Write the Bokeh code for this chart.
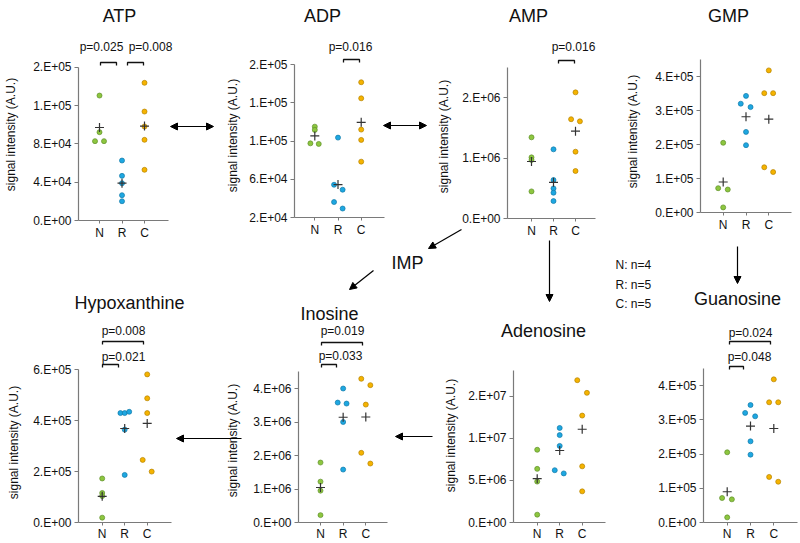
import numpy as np
from bokeh.plotting import figure
from bokeh.models import FixedTicker, Range1d, Label, Arrow, NormalHead, LinearAxis, Grid
from bokeh.embed import file_html
from bokeh.resources import INLINE

# ---------------- data ----------------
groups = ["N", "R", "C"]
group_n = ["N: n=4", "R: n=5", "C: n=5"]

atp_N = [130400, 92200, 82800, 82800]
atp_R = [62600, 46600, 38900, 26400, 20100]
atp_C = [143700, 113700, 98100, 84200, 52900]
atp_ticks = [0, 40000, 80000, 120000, 160000]
atp_tick_labels = ["0.E+00", "4.E+04", "8.E+04", "1.E+05", "2.E+05"]

adp_N = [115200, 111800, 97700, 97100]
adp_R = [103700, 54300, 49100, 36200, 29400]
adp_C = [161700, 144900, 112100, 101300, 78500]
adp_ticks = [20000, 60000, 100000, 140000, 180000]
adp_tick_labels = ["2.E+04", "6.E+04", "1.E+05", "1.E+05", "2.E+05"]

amp_N = [1345000, 1013000, 970000, 449000]
amp_R = [1146000, 638000, 498000, 427000, 289000]
amp_C = [2090000, 1645000, 1610000, 1107000, 787000]
amp_ticks = [0, 1000000, 2000000]
amp_tick_labels = ["0.E+00", "1.E+06", "2.E+06"]

gmp_N = [205000, 15000, 71500, 67600]
gmp_R = [343000, 320000, 310000, 237000, 198000]
gmp_C = [418000, 351000, 351000, 133000, 119000]
gmp_ticks = [0, 100000, 200000, 300000, 400000]
gmp_tick_labels = ["0.E+00", "1.E+05", "2.E+05", "3.E+05", "4.E+05"]

hyp_N = [173000, 116000, 104000, 19000]
hyp_R = [430000, 430000, 435000, 365000, 187000]
hyp_C = [582000, 488000, 430000, 246000, 200000]
hyp_ticks = [0, 200000, 400000, 600000]
hyp_tick_labels = ["0.E+00", "2.E+05", "4.E+05", "6.E+05"]

ino_N = [1790000, 1220000, 950000, 220000]
ino_R = [4000000, 3580000, 3550000, 3000000, 1580000]
ino_C = [4290000, 4100000, 3520000, 2080000, 1760000]
ino_ticks = [0, 1000000, 2000000, 3000000, 4000000]
ino_tick_labels = ["0.E+00", "1.E+06", "2.E+06", "3.E+06", "4.E+06"]

ade_N = [8640000, 6370000, 4860000, 930000]
ade_R = [11230000, 10380000, 9100000, 6210000, 5830000]
ade_C = [16900000, 15400000, 12700000, 6670000, 3700000]
ade_ticks = [0, 5000000, 10000000, 15000000]
ade_tick_labels = ["0.E+00", "5.E+06", "1.E+07", "2.E+07"]

guo_N = [205000, 15000, 71500, 67600]
guo_R = [343000, 320000, 310000, 237000, 198000]
guo_C = [418000, 351000, 351000, 133000, 119000]
guo_ticks = [0, 100000, 200000, 300000, 400000]
guo_tick_labels = ["0.E+00", "1.E+05", "2.E+05", "3.E+05", "4.E+05"]

# horizontal jitter of the dots (fraction of a category step)
atp_jit = ([0, 0, -0.2, 0.2], [0, 0, 0, 0, 0], [0, 0, 0, 0, 0])
adp_jit = ([0, 0, -0.19, 0.17], [0, -0.17, 0.2, -0.17, 0.2], [0, 0, 0, 0, 0])
amp_jit = ([0, 0, 0, 0], [0, 0, 0, 0, 0], [0, -0.2, 0.2, 0, 0])
gmp_jit = ([0, 0, -0.22, 0.2], [0, -0.23, 0.2, 0, 0], [0, -0.2, 0.19, -0.2, 0.19])
hyp_jit = ([0, 0, 0, 0], [-0.19, 0, 0.2, 0, 0], [0, 0, 0, -0.2, 0.2])
ino_jit = ([0, 0, 0, 0], [0, -0.24, 0.15, 0, 0], [-0.2, 0.2, 0, -0.2, 0.2])
ade_jit = ([0, 0, 0, 0], [0, 0, 0, -0.22, 0.18], [-0.22, 0.21, 0, 0, 0])
guo_jit = gmp_jit

# ---------------- style ----------------
W, H = 800, 543
FONT = "Liberation Sans"
FILL = ["#8dc63f", "#1ea7e1", "#f5b300"]
EDGE = ["#5f8f2a", "#117aa8", "#b48300"]
AXIS_COLOR = "#7a7a7a"
TEXT_COLOR = "#111111"
YLAB = "signal intensity (A.U.)"

# panel placement in page pixels
panels = [
    dict(key="atp", title="ATP", FL=78, FB=220, xN=99, xC=144, xend=168,
         vmin=0, vref=160000, yref=66.7, vtop=160000, ticks=atp_ticks, labels=atp_tick_labels,
         data=(atp_N, atp_R, atp_C), jit=atp_jit, tpos=(119, 15), ylab=(10, 134), xsoff=2,
         pv=[("p=0.025", 101, 46, 100, 116, 62), ("p=0.008", 150, 46, 127, 143, 62)]),
    dict(key="adp", title="ADP", FL=294, FB=217, xN=314.3, xC=360.7, xend=384,
         vmin=20000, vref=180000, yref=64.3, vtop=180000, ticks=adp_ticks, labels=adp_tick_labels,
         data=(adp_N, adp_R, adp_C), jit=adp_jit, tpos=(322, 15), ylab=(232, 135), xsoff=2,
         pv=[("p=0.016", 350, 46, 343, 359, 59)]),
    dict(key="amp", title="AMP", FL=507, FB=218, xN=531, xC=575, xend=595,
         vmin=0, vref=2000000, yref=97.3, vtop=2500000, ticks=amp_ticks, labels=amp_tick_labels,
         data=(amp_N, amp_R, amp_C), jit=amp_jit, tpos=(528, 15), ylab=(443, 136), xsoff=2,
         pv=[("p=0.016", 573, 46, 558, 574, 60)]),
    dict(key="gmp", title="GMP", FL=700, FB=212, xN=722.7, xC=768.3, xend=791,
         vmin=0, vref=400000, yref=76, vtop=450000, ticks=gmp_ticks, labels=gmp_tick_labels,
         data=(gmp_N, gmp_R, gmp_C), jit=gmp_jit, tpos=(728, 15), ylab=(632, 131), xsoff=2,
         pv=[]),
    dict(key="hyp", title="Hypoxanthine", FL=78, FB=522, xN=101.7, xC=146.7, xend=170.7,
         vmin=0, vref=600000, yref=369.3, vtop=600000, ticks=hyp_ticks, labels=hyp_tick_labels,
         data=(hyp_N, hyp_R, hyp_C), jit=hyp_jit, tpos=(129, 302), ylab=(13, 442), xsoff=1,
         pv=[("p=0.008", 123, 330, 102, 143, 341), ("p=0.021", 123, 356, 102, 118, 364)]),
    dict(key="ino", title="Inosine", FL=298, FB=522, xN=320, xC=365.3, xend=386.7,
         vmin=0, vref=4000000, yref=388, vtop=4500000, ticks=ino_ticks, labels=ino_tick_labels,
         data=(ino_N, ino_R, ino_C), jit=ino_jit, tpos=(329, 313), ylab=(232, 440), xsoff=1,
         pv=[("p=0.019", 342, 330, 321, 362, 342), ("p=0.033", 340, 355, 321, 336, 364)]),
    dict(key="ade", title="Adenosine", FL=513, FB=522, xN=536.7, xC=581.7, xend=605,
         vmin=0, vref=15000000, yref=395.7, vtop=18000000, ticks=ade_ticks, labels=ade_tick_labels,
         data=(ade_N, ade_R, ade_C), jit=ade_jit, tpos=(543, 330), ylab=(450, 435), xsoff=1,
         pv=[]),
    dict(key="guo", title="Guanosine", FL=703, FB=522, xN=726.7, xC=773.3, xend=797,
         vmin=0, vref=400000, yref=385, vtop=450000, ticks=guo_ticks, labels=guo_tick_labels,
         data=(guo_N, guo_R, guo_C), jit=guo_jit, tpos=(737, 298), ylab=None, xsoff=1,
         pv=[("p=0.024", 750, 332, 729, 770, 341), ("p=0.048", 749, 356, 729, 743, 366)]),
]

# pathway arrows (page px): x0, y0, x1, y1, double-headed
arrows = [
    (170, 126, 213, 126, True),
    (383, 125, 426, 125, True),
    (461, 229, 428, 248, False),
    (373, 270, 349, 289, False),
    (549, 240, 549, 301, False),
    (737, 246, 737, 283, False),
    (241, 438, 176, 438, False),
    (432, 436, 395, 436, False),
]
free_texts = [("IMP", 407, 262, "18px", "center")] + [
    (t, 615, y, "12px", "left") for t, y in zip(group_n, [264, 284, 303])
]

# ---------------- figure: frame = whole page, page-pixel default ranges ----------------
p = figure(width=W, height=H, x_range=Range1d(0, W), y_range=Range1d(H, 0),
           x_axis_location=None, y_axis_location=None, output_backend="svg",
           toolbar_location=None, title=None, min_border=0)
p.min_border_left = 0
p.min_border_right = 0
p.min_border_top = 0
p.min_border_bottom = 0
p.outline_line_color = None
p.background_fill_color = "white"
p.border_fill_color = "white"
p.renderers = [r for r in p.renderers if not isinstance(r, Grid)]
p.center = [r for r in p.center if not isinstance(r, Grid)]

xr, yr = {}, {}
maps = {}
for c in panels:
    sx = (c["xC"] - c["xN"]) / 2.0
    sy = (c["FB"] - c["yref"]) / (c["vref"] - c["vmin"])

    def X(px, c=c, sx=sx):
        return 1 + (px - c["xN"]) / sx

    def Y(py, c=c, sy=sy):
        return c["vmin"] + (c["FB"] - py) / sy

    xr[c["key"] + "_x"] = Range1d(X(0), X(W))
    yr[c["key"] + "_y"] = Range1d(Y(H), Y(0))
    maps[c["key"]] = (X, Y)
p.extra_x_ranges = xr
p.extra_y_ranges = yr


def text_label(x, y, txt, size, align="center", angle=0.0):
    p.add_layout(Label(x=x, y=y, text=txt, text_align=align, text_baseline="middle",
                       angle=angle, text_font=FONT, text_font_size=size,
                       text_color=TEXT_COLOR))


for c in panels:
    X, Y = maps[c["key"]]
    nx, ny = c["key"] + "_x", c["key"] + "_y"

    xa = LinearAxis(x_range_name=nx, y_range_name=ny, fixed_location=c["vmin"],
                    bounds=(X(c["FL"]), X(c["xend"])), ticker=FixedTicker(ticks=[1, 2, 3]),
                    major_label_overrides={i + 1: g for i, g in enumerate(groups)})
    ya = LinearAxis(x_range_name=nx, y_range_name=ny, fixed_location=X(c["FL"]),
                    bounds=(c["vmin"], c["vtop"]), ticker=FixedTicker(ticks=c["ticks"]),
                    major_label_overrides={t: l for t, l in zip(c["ticks"], c["labels"])})
    for ax, tout, soff in ((xa, 3, c["xsoff"]), (ya, 4, 3)):
        ax.axis_line_color = AXIS_COLOR
        ax.axis_line_width = 1.2
        ax.major_tick_line_color = AXIS_COLOR
        ax.major_tick_in = 0
        ax.major_tick_out = tout
        ax.minor_tick_line_color = None
        ax.major_label_standoff = soff
        ax.major_label_text_font = FONT
        ax.major_label_text_font_size = "12px"
        ax.major_label_text_color = TEXT_COLOR
    p.add_layout(xa, "below")
    p.add_layout(ya, "left")

    for gi, (vals, jit) in enumerate(zip(c["data"], c["jit"])):
        xs = [gi + 1 + j for j in jit]
        p.scatter(xs, vals, size=5, fill_color=FILL[gi], line_color=EDGE[gi],
                  line_width=0.7, x_range_name=nx, y_range_name=ny)
        p.scatter([gi + 1], [float(np.mean(vals))], marker="cross", size=9,
                  line_color="#333333", line_width=1.2, x_range_name=nx, y_range_name=ny)

    tx, ty = c["tpos"]
    text_label(tx, ty, c["title"], "18px")
    if c["ylab"] is not None:
        lx, ly = c["ylab"]
        text_label(lx, ly, YLAB, "12px", angle=np.pi / 2)
    for txt, px_, py_, bx0, bx1, by in c["pv"]:
        text_label(px_, py_, txt, "12px")
        p.line([bx0, bx0, bx1, bx1], [by + 3, by, by, by + 3],
               line_color=TEXT_COLOR, line_width=1.3)

for x0, y0, x1, y1, both in arrows:
    head = NormalHead(size=7, fill_color="black", line_color="black", line_width=1)
    start = NormalHead(size=7, fill_color="black", line_color="black", line_width=1) if both else None
    p.add_layout(Arrow(x_start=x0, y_start=y0, x_end=x1, y_end=y1, end=head, start=start,
                       line_color="black", line_width=1.2))

for txt, fx, fy, fs, al in free_texts:
    text_label(fx, fy, txt, fs, align=al)

open("out.html", "w").write(file_html(p, INLINE))
